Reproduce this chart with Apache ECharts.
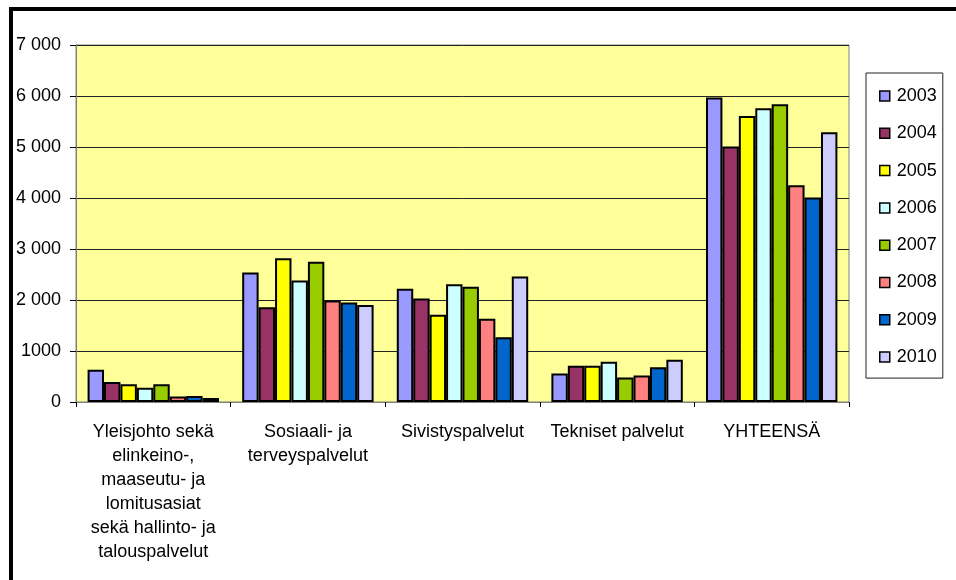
<!DOCTYPE html>
<html>
<head>
<meta charset="utf-8">
<script src="https://cdn.jsdelivr.net/npm/echarts@6/dist/echarts.min.js"></script>
<style>
  html, body { margin: 0; padding: 0; background: #fff; }
  #wrap { position: relative; width: 956px; height: 580px; overflow: hidden; }
  #chart { position: absolute; left: 0; top: 0; width: 956px; height: 580px; }
  #frame { position: absolute; left: 9px; top: 7px; width: 960px; height: 600px;
           border-left: 4px solid #000; border-top: 4px solid #000; pointer-events: none; }
</style>
</head>
<body>
<div id="wrap">
  <div id="chart"></div>
  <div id="frame"></div>
</div>
<script>
const categories = [
  "Yleisjohto sekä\nelinkeino-,\nmaaseutu- ja\nlomitusasiat\nsekä hallinto- ja\ntalouspalvelut",
  "Sosiaali- ja\nterveyspalvelut",
  "Sivistyspalvelut",
  "Tekniset palvelut",
  "YHTEENSÄ"
];
const years = ["2003", "2004", "2005", "2006", "2007", "2008", "2009", "2010"];
const v2003 = [630, 2540, 2220, 560, 5970];
const v2004 = [390, 1860, 2030, 710, 5010];
const v2005 = [350, 2820, 1710, 710, 5610];
const v2006 = [280, 2380, 2310, 790, 5760];
const v2007 = [350, 2750, 2260, 480, 5840];
const v2008 = [110, 1990, 1630, 520, 4250];
const v2009 = [120, 1950, 1270, 680, 4010];
const v2010 = [80, 1900, 2460, 830, 5290];
const yTickValues = [0, 1000, 2000, 3000, 4000, 5000, 6000, 7000];
const yTickLabels = ["0", "1000", "2 000", "3 000", "4 000", "5 000", "6 000", "7 000"];
const colors = ["#9999FF", "#993366", "#FFFF00", "#CCFFFF", "#99CC00", "#FF8080", "#0066CC", "#CCCCFF"];

const seriesValues = [v2003, v2004, v2005, v2006, v2007, v2008, v2009, v2010];
const FONT = 'Arial, "Liberation Sans", sans-serif';

const chart = echarts.init(document.getElementById('chart'), null, { renderer: 'canvas' });
chart.setOption({
  animation: false,
  color: colors,
  textStyle: { fontFamily: FONT },
  grid: {
    left: 76, top: 45, width: 773, height: 357,
    show: true, backgroundColor: '#FFFF99', borderColor: '#808080', borderWidth: 1,
    containLabel: false
  },
  legend: {
    orient: 'vertical',
    left: 866, top: 73,
    width: 77,
    padding: [14, 6, 12, 13],
    itemGap: 19.3,
    itemWidth: 10, itemHeight: 10,
    borderColor: '#222', borderWidth: 1,
    backgroundColor: '#fff',
    icon: 'rect',
    itemStyle: { borderColor: '#000', borderWidth: 1.5 },
    textStyle: { fontFamily: FONT, fontSize: 18, color: '#000', lineHeight: 18, padding: [0, 0, 0, 2] },
    data: years
  },
  xAxis: {
    type: 'category',
    data: categories,
    axisLine: { lineStyle: { color: '#808080', width: 1 } },
    axisTick: { show: true, length: 5, lineStyle: { color: '#000' } },
    axisLabel: {
      interval: 0, margin: 18,
      fontFamily: FONT, fontSize: 18, color: '#000', lineHeight: 24, align: 'center'
    }
  },
  yAxis: {
    type: 'value',
    min: 0, max: 7000, interval: 1000,
    axisLine: { show: true, lineStyle: { color: '#808080', width: 1 } },
    axisTick: { show: true, length: 6, lineStyle: { color: '#000' } },
    splitLine: { show: true, lineStyle: { color: '#222', width: 1 } },
    axisLabel: {
      margin: 15, fontFamily: FONT, fontSize: 18, color: '#000',
      formatter: function (v) {
        const i = yTickValues.indexOf(v);
        return i >= 0 ? yTickLabels[i] : '';
      }
    }
  },
  series: years.map((y, i) => ({
    name: y,
    type: 'bar',
    data: seriesValues[i],
    barGap: '0%',
    barCategoryGap: '15%',
    itemStyle: { color: colors[i], borderColor: '#000', borderWidth: 2 }
  }))
});
</script>
</body>
</html>
